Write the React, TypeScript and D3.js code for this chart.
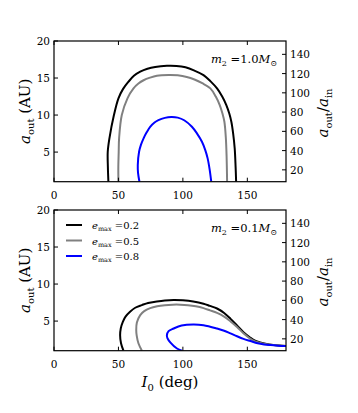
import React from "react";
import * as d3 from "d3";

const xTicks = [0, 50, 100, 150];
const yTicks = [5, 10, 15, 20];
const rTicks = [20, 40, 60, 80, 100, 120, 140];
const aIn = 0.13;
const emaxLabels = ["0.2", "0.5", "0.8"];
const colors = ["#000000", "#808080", "#0000ff"];
const massLabels = ["1.0", "0.1"];

// Panel 1: m2 = 1.0 Msun
const p1BlackI = [42.2, 41.8, 41.7, 43.0, 46.5, 50.0, 53.5, 57.8, 62.0, 66.9, 72.5, 78.5, 87.6, 95, 102, 109, 116, 121.5, 126.5, 130.5, 133.7, 136, 137.6, 139, 140.2, 140.9, 141.3];
const p1BlackA = [1, 3, 5.04, 6.85, 10, 12.26, 13.5, 14.5, 15.3, 15.85, 16.25, 16.5, 16.66, 16.64, 16.45, 16.0, 15.4, 14.55, 13.6, 12.5, 11.35, 10.2, 9.1, 7.5, 5.5, 3, 1];
const p1GrayI = [50.0, 49.9, 50.2, 50.5, 52.6, 57.0, 61.7, 65.5, 69.5, 74.5, 79.8, 88.9, 96, 103, 109, 115, 121.3, 125.5, 128.6, 130.7, 132.2, 133.3, 133.9, 134.3];
const p1GrayA = [1, 3, 5, 6.85, 10, 12.26, 13.6, 14.25, 14.7, 15.05, 15.3, 15.4, 15.36, 15.15, 14.8, 14.3, 13.6, 12.5, 11.35, 10.2, 9.1, 7.0, 4.5, 1];
const p1BlueI = [66.3, 65.2, 65.0, 66, 67.5, 69.5, 72, 74.6, 78, 81, 86, 91, 96, 101, 107, 111, 114.8, 117.3, 119.2, 120.8, 122];
const p1BlueA = [1, 2.2, 3.24, 5.04, 6, 6.85, 7.7, 8.42, 9.0, 9.32, 9.62, 9.73, 9.65, 9.3, 8.42, 7.5, 6.4, 5.3, 4.15, 2.6, 1];

// Panel 2: m2 = 0.1 Msun
const p2BlackI = [53.9, 52.0, 51.3, 51.8, 53.4, 55.5, 59, 63, 68.2, 73, 79.8, 86, 92.8, 100, 108, 116, 121, 126.5, 132, 137, 142, 147, 152.4, 156, 160, 165, 170, 175, 180];
const p2BlackA = [1, 2.0, 3.1, 4.0, 4.9, 5.6, 6.26, 6.8, 7.16, 7.45, 7.65, 7.78, 7.84, 7.8, 7.65, 7.35, 7.05, 6.7, 6.1, 5.3, 4.4, 3.5, 2.75, 2.35, 2.1, 1.9, 1.78, 1.7, 1.65];
const p2GrayI = [68.2, 65.5, 64.2, 63.8, 64.3, 66.9, 70, 74.6, 80, 86, 92, 98, 104, 110, 116, 121, 126.5, 132, 137, 142, 147, 152.4, 156, 160, 165, 170, 175, 180];
const p2GrayA = [1, 2.0, 3.0, 3.8, 4.8, 5.8, 6.35, 6.75, 7.0, 7.15, 7.22, 7.22, 7.15, 7.0, 6.75, 6.45, 6.1, 5.6, 4.95, 4.2, 3.35, 2.6, 2.25, 2.05, 1.87, 1.76, 1.69, 1.65];
const p2BlueI = [99.3, 95.4, 90.2, 88.0, 87.6, 88.9, 92.8, 99, 108, 116, 126.5, 132, 136.9, 142, 147, 152.4, 158, 163, 168, 174, 180];
const p2BlueA = [1, 1.3, 2.12, 2.7, 3.1, 3.65, 4.0, 4.4, 4.55, 4.45, 4.0, 3.7, 3.34, 2.95, 2.6, 2.3, 2.0, 1.85, 1.76, 1.68, 1.62];

const panels = [
  { top: 41, curves: [[p1BlackI, p1BlackA], [p1GrayI, p1GrayA], [p1BlueI, p1BlueA]], legend: false },
  { top: 210, curves: [[p2BlackI, p2BlackA], [p2GrayI, p2GrayA], [p2BlueI, p2BlueA]], legend: true },
];

const L = 54, R = 286, H = 140.7;
const serif = "'DejaVu Serif', 'Liberation Serif', serif";

function Panel({ p, idx }: { p: any; idx: number }) {
  const x = d3.scaleLinear().domain([0, 180]).range([L, R]);
  const y = d3.scaleLinear().domain([1, 20]).range([p.top + H, p.top]);
  const yr = d3.scaleLinear().domain([1 / aIn, 20 / aIn]).range([p.top + H, p.top]);
  const line = d3
    .line<[number, number]>()
    .x((d) => x(d[0]))
    .y((d) => y(d[1]))
    .curve(d3.curveCatmullRom.alpha(0.5));
  const clipId = "clip" + idx;
  return (
    <g>
      <defs>
        <clipPath id={clipId}>
          <rect x={L} y={p.top} width={R - L} height={H} />
        </clipPath>
      </defs>
      <g clipPath={`url(#${clipId})`}>
        {p.curves.map((c: number[][], i: number) => {
          const pts = c[0].map((v, k) => [v, c[1][k]] as [number, number]);
          return <path key={i} d={line(pts) || ""} fill="none" stroke={colors[i]} strokeWidth={2} />;
        })}
      </g>
      <rect x={L} y={p.top} width={R - L} height={H} fill="none" stroke="#000" strokeWidth={1.2} />
      {xTicks.map((t) => (
        <g key={"x" + t}>
          <line x1={x(t)} x2={x(t)} y1={p.top + H} y2={p.top + H - 4} stroke="#000" />
          <line x1={x(t)} x2={x(t)} y1={p.top} y2={p.top + 4} stroke="#000" />
          <text x={x(t)} y={p.top + H + 17} textAnchor="middle" fontSize={10.5} fontFamily={serif}>{t}</text>
        </g>
      ))}
      {yTicks.map((t) => (
        <g key={"y" + t}>
          <line x1={L} x2={L + 4} y1={y(t)} y2={y(t)} stroke="#000" />
          <text x={L - 4} y={y(t) + 4} textAnchor="end" fontSize={10.5} fontFamily={serif}>{t}</text>
        </g>
      ))}
      {rTicks.map((t) => (
        <g key={"r" + t}>
          <line x1={R} x2={R - 4} y1={yr(t)} y2={yr(t)} stroke="#000" />
          <text x={R + 4} y={yr(t) + 4} textAnchor="start" fontSize={10.5} fontFamily={serif}>{t}</text>
        </g>
      ))}
      <text transform={`translate(30,${p.top + H / 2}) rotate(-90)`} textAnchor="middle" fontSize={15} fontFamily={serif}>
        <tspan fontStyle="italic">a</tspan>
        <tspan fontSize={10} dy={4}>out</tspan>
        <tspan dy={-4}>{" (AU)"}</tspan>
      </text>
      <text transform={`translate(328,${p.top + 72}) rotate(-90)`} textAnchor="middle" fontSize={15} fontFamily={serif}>
        <tspan fontStyle="italic">a</tspan>
        <tspan fontSize={10} dy={4}>out</tspan>
        <tspan dy={-4}>/</tspan>
        <tspan fontStyle="italic">a</tspan>
        <tspan fontSize={10} dy={4}>in</tspan>
      </text>
      <text x={277} y={p.top + 22} textAnchor="end" fontSize={11.5} fontFamily={serif}>
        <tspan fontStyle="italic">m</tspan>
        <tspan fontSize={8} dy={3}>2</tspan>
        <tspan dy={-3}>{" ="}{massLabels[idx]}</tspan>
        <tspan fontStyle="italic">M</tspan>
        <tspan fontSize={8} dy={3}>⊙</tspan>
      </text>
      {p.legend &&
        emaxLabels.map((lab, i) => (
          <g key={"l" + i}>
            <line x1={66} x2={82} y1={p.top + 15 + i * 15.5} y2={p.top + 15 + i * 15.5} stroke={colors[i]} strokeWidth={2} />
            <text x={92} y={p.top + 19 + i * 15.5} fontSize={10} fontFamily={serif}>
              <tspan fontStyle="italic">e</tspan>
              <tspan fontSize={6.5} dy={2}>max</tspan>
              <tspan dy={-2}>{" ="}{lab}</tspan>
            </text>
          </g>
        ))}
    </g>
  );
}

export default function App() {
  return (
    <svg width={358} height={413} style={{ position: "absolute", left: 0, top: 0, background: "#fff" }}>
      <rect width={358} height={413} fill="#fff" />
      {panels.map((p, i) => (
        <Panel key={i} p={p} idx={i} />
      ))}
      <text x={170} y={387} textAnchor="middle" fontSize={15} fontFamily={serif}>
        <tspan fontStyle="italic">I</tspan>
        <tspan fontSize={10} dy={4}>0</tspan>
        <tspan dy={-4}>{" (deg)"}</tspan>
      </text>
    </svg>
  );
}
